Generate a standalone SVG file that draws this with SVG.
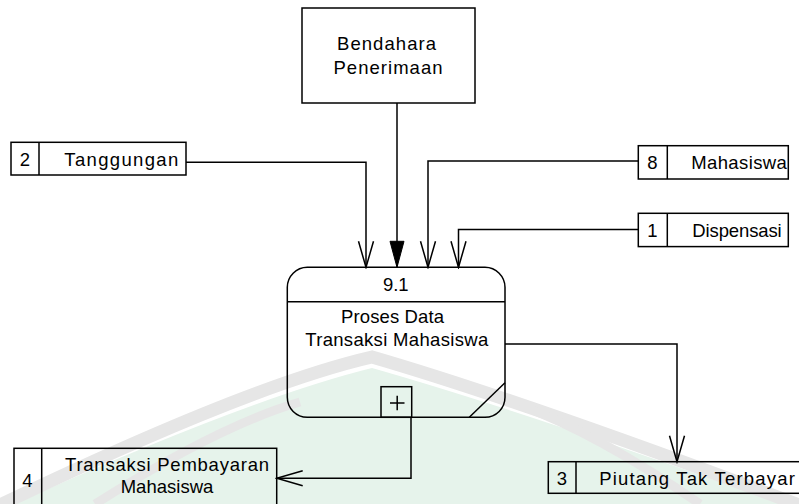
<svg xmlns="http://www.w3.org/2000/svg" width="799" height="504" viewBox="0 0 799 504">
<style>
.t{font-family:"Liberation Sans",Arial,sans-serif;font-size:18.5px;fill:#000;text-anchor:middle}
.b{fill:none;stroke:#000;stroke-width:1.5}
.c{fill:none;stroke:#000;stroke-width:1.5}
.wm{fill:none;stroke:#e6e6e6}
</style>
<defs>
<marker id="open" markerUnits="userSpaceOnUse" markerWidth="32" markerHeight="20" viewBox="-30 -10 32 20" refX="0" refY="0" orient="auto">
<path d="M-26,-7.5 L0,0 L-26,7.5" fill="none" stroke="#000" stroke-width="1.5"/>
</marker>
<marker id="filled" markerUnits="userSpaceOnUse" markerWidth="32" markerHeight="20" viewBox="-30 -10 32 20" refX="0" refY="0" orient="auto">
<path d="M-26,-7 L0,0 L-26,7 Z" fill="#000" stroke="#000" stroke-width="1"/>
</marker>
</defs>
<rect width="799" height="504" fill="#fff"/>
<g id="watermark">
<path d="M14,504 Q250,398 372,368 Q520,410 782,504 Z" fill="#e6f3eb"/>
<path class="wm" stroke-width="13" d="M0,505 Q250,385 372,357 Q520,400 799,505"/>
<path class="wm" stroke-width="9" stroke="#eaecea" d="M95,504 Q220,425 300,402"/>
<path class="wm" stroke-width="9" stroke="#eaecea" d="M520,405 Q600,435 700,504"/>
</g>
<g id="connectors">
<path class="c" d="M186,162.3 H366 V267.3" marker-end="url(#open)"/>
<path class="c" d="M397,103 V267.3" marker-end="url(#filled)"/>
<path class="c" d="M638,161 H428 V267.3" marker-end="url(#open)"/>
<path class="c" d="M638,229.5 H458.5 V267.3" marker-end="url(#open)"/>
<path class="c" d="M505,344 H677 V461.7" marker-end="url(#open)"/>
<path class="c" d="M411,417.3 V478.3 H276.7" marker-end="url(#open)"/>
</g>
<g id="bendahara">
<rect class="b" x="302" y="8" width="173" height="95"/>
<text class="t" x="386.5" y="50" textLength="99" lengthAdjust="spacing">Bendahara</text>
<text class="t" x="388" y="74" textLength="109" lengthAdjust="spacing">Penerimaan</text>
</g>
<g id="store2">
<rect class="b" x="11" y="142.3" width="175" height="32.7"/>
<line class="b" x1="39" y1="142.3" x2="39" y2="175"/>
<text class="t" x="25" y="166">2</text>
<text class="t" x="121.3" y="166" textLength="114" lengthAdjust="spacing">Tanggungan</text>
</g>
<g id="store8">
<rect class="b" x="638.3" y="145.7" width="150" height="33.3"/>
<line class="b" x1="667.3" y1="145.7" x2="667.3" y2="179"/>
<text class="t" x="652.5" y="169.3">8</text>
<text class="t" x="739" y="169.3" textLength="95.7" lengthAdjust="spacing">Mahasiswa</text>
</g>
<g id="store1">
<rect class="b" x="638.3" y="213.3" width="150" height="33.3"/>
<line class="b" x1="667.3" y1="213.3" x2="667.3" y2="246.6"/>
<text class="t" x="652.5" y="236.7">1</text>
<text class="t" x="737" y="236.7" textLength="89.3" lengthAdjust="spacing">Dispensasi</text>
</g>
<g id="process">
<rect class="b" x="287.3" y="267.3" width="217.7" height="150" rx="20" ry="20"/>
<line class="b" x1="287.3" y1="301.7" x2="505" y2="301.7"/>
<line class="b" x1="469.3" y1="417.3" x2="505" y2="382.7"/>
<rect class="b" x="381" y="386.7" width="30.7" height="30.6"/>
<path class="b" d="M390,403 H404.5 M397.2,395.7 V410.3"/>
<text class="t" x="395.8" y="290.7">9.1</text>
<text class="t" x="392.5" y="322.7" textLength="103" lengthAdjust="spacing">Proses Data</text>
<text class="t" x="396.7" y="346" textLength="183" lengthAdjust="spacing">Transaksi Mahasiswa</text>
</g>
<g id="store4">
<rect class="b" x="14" y="448.3" width="262.7" height="70"/>
<line class="b" x1="41.7" y1="448.3" x2="41.7" y2="518.3"/>
<text class="t" x="27.5" y="487.3">4</text>
<text class="t" x="167" y="470.7" textLength="204" lengthAdjust="spacing">Transaksi Pembayaran</text>
<text class="t" x="167" y="493.3" textLength="92.6" lengthAdjust="spacing">Mahasiswa</text>
</g>
<g id="store3">
<rect class="b" x="548.3" y="461.7" width="260" height="31.6"/>
<line class="b" x1="576" y1="461.7" x2="576" y2="493.3"/>
<text class="t" x="562" y="485">3</text>
<text class="t" x="697" y="485" textLength="195.7" lengthAdjust="spacing">Piutang Tak Terbayar</text>
</g>
</svg>
